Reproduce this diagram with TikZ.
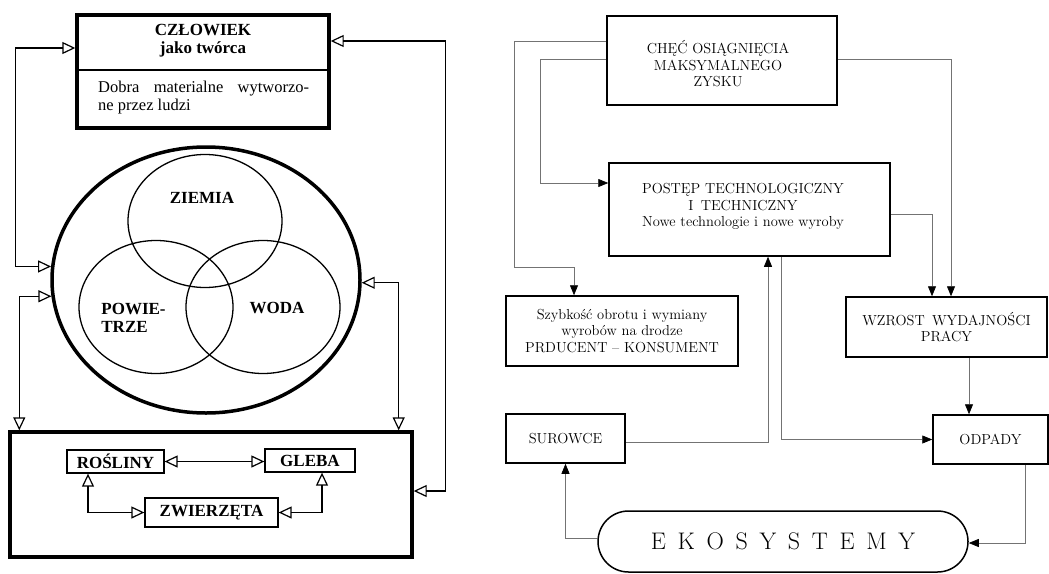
\documentclass[tikz,border=0pt]{standalone}
\usepackage{fontspec}
\newfontfamily\tms{Liberation Serif}
\usetikzlibrary{arrows.meta,shapes.misc,shapes.geometric}
\newcommand\gp{\hspace{11.7pt}}
\begin{document}
\begin{tikzpicture}[x=1pt,y=-1pt,
  heavy/.style={draw,line width=3.4pt,inner sep=0pt},
  venn/.style={draw,ellipse,line width=1.3pt,inner sep=0pt,minimum width=154pt,minimum height=133pt},
  lbl/.style={inner sep=0pt,font=\tms\bfseries\fontsize{17}{18}\selectfont},
  biobox/.style={draw,line width=1.3pt,inner sep=0pt,font=\tms\bfseries\fontsize{17}{18}\selectfont},
  both/.style={line width=1.2pt,{Triangle[open,length=13pt,width=12pt]}-{Triangle[open,length=13pt,width=12pt]}},
  rbox/.style={draw,line width=1.5pt,inner sep=0pt,align=center,font=\fontsize{14.5}{16.5}\selectfont},
  rtxt/.style={inner sep=0pt,align=center,font=\fontsize{14.5}{16.5}\selectfont},
  flow/.style={draw=black!55,line width=0.7pt,-{Triangle[length=10pt,width=8pt,color=black]}}
]
\useasboundingbox (0,0) rectangle (1049,573);

% ---- man as creator ----
\node[heavy,minimum width=252pt,minimum height=113pt] (czl) at (203,71.5) {};
\draw[line width=1.5pt] ([yshift=1.5pt]czl.west) -- ([yshift=1.5pt]czl.east);
\node[lbl,align=center] (czlT) at (203,41) {CZŁOWIEK\\jako twórca};
\node[anchor=west,inner sep=0pt,align=left,font=\tms\fontsize{16.5}{18}\selectfont] (czlB) at (98,98)
  {\makebox[211pt][s]{Dobra materialne wytworzo-}\\ne przez ludzi};

% ---- earth, water, air ----
\node[draw,ellipse,line width=3.5pt,inner sep=0pt,minimum width=308pt,minimum height=266pt] (earth) at (206,280) {};
\node[venn] (zie) at (205,221) {};
\node[venn] (pow) at (156,307) {};
\node[venn] (wod) at (263,307) {};
\node[lbl] (zieL) at (202,198) {ZIEMIA};
\node[lbl,align=left] (powL) at (133.5,318) {POWIE-\\TRZE};
\node[lbl] (wodL) at (277,308) {WODA};

% ---- living world ----
\node[heavy,minimum width=402pt,minimum height=125pt] (bio) at (211,494.5) {};
\node[biobox,minimum width=97pt,minimum height=23pt] (ros) at (115.5,461.5) {ROŚLINY};
\node[biobox,minimum width=90pt,minimum height=23pt] (gle) at (310,460.5) {GLEBA};
\node[biobox,minimum width=133pt,minimum height=29pt] (zwi) at (211.5,512.5) {ZWIERZĘTA};

\draw[both] ([yshift=23.5pt]czl.west) -- ++(-60pt,0) |- (earth.175);
\draw[both] (earth.186) -| ([xshift=11pt]bio.north west);
\draw[both] (earth.359) -| ([xshift=-15pt]bio.north east);
\draw[both] ([yshift=30.5pt]czl.east) -- ++(115pt,0) |- ([yshift=3.5pt]bio.east);
\draw[both] (ros.east) -- (ros.east -| gle.west);
\draw[both] ([xshift=-27.5pt]ros.south) |- (zwi.west);
\draw[both] ([xshift=12pt]gle.south) |- (zwi.east);

% ---- economy and ecosystems ----
\node[rbox,minimum width=230pt,minimum height=89pt] (chec) at (722,60.5) {};
\node[rtxt] (checT) at (718,64) {CHĘĆ OSIĄGNIĘCIA\\MAKSYMALNEGO\\ZYSKU};
\node[rbox,minimum width=281pt,minimum height=93pt] (post) at (749.5,209.5) {};
\node[rtxt] (postT) at (743,206.5)
  {POSTĘP TECHNOLOGICZNY\\I\enspace TECHNICZNY\\Nowe technologie i nowe wyroby};
\node[rbox,minimum width=232pt,minimum height=70pt] (szyb) at (622,331)
  {Szybkość obrotu i wymiany\\wyrobów na drodze\\PRDUCENT – KONSUMENT};
\node[rbox,minimum width=201pt,minimum height=60pt] (wzr) at (946.5,327)
  {WZROST\enspace WYDAJNOŚCI\\PRACY};
\node[rbox,minimum width=119pt,minimum height=49pt] (sur) at (565.5,438.5) {SUROWCE};
\node[rbox,minimum width=115pt,minimum height=49pt] (odp) at (990.5,439.5) {ODPADY};
\node[draw,rounded rectangle,line width=1.5pt,inner sep=0pt,minimum width=370pt,minimum height=61pt,
  font=\fontsize{24}{26}\selectfont] (eko) at (783,541.5)
  {E\gp K\gp O\gp S\gp Y\gp S\gp T\gp E\gp M\gp Y};

\draw[flow] ([yshift=19.5pt]chec.west) -| (514,267) -| ([xshift=-48pt]szyb.north);
\draw[flow] ([yshift=1.5pt]chec.west) -- ++(-66pt,0) |- ([yshift=26.5pt]post.west);
\draw[flow] ([yshift=1.5pt]chec.east) -| ([xshift=4.5pt]wzr.north);
\draw[flow] ([yshift=-4.5pt]post.east) -| ([xshift=-14.5pt]wzr.north);
\draw[flow] ([yshift=-3.5pt]sur.east) -| ([xshift=18.5pt]post.south);
\draw[flow] ([xshift=31.5pt]post.south) |- (odp.west);
\draw[flow] ([xshift=22.5pt]wzr.south) -- ([xshift=-21.5pt]odp.north);
\draw[flow] ([xshift=34.5pt]odp.south) |- ([yshift=-1.5pt]eko.east);
\draw[flow] ([yshift=3.5pt]eko.west) -| (sur.south);
\end{tikzpicture}
\end{document}
